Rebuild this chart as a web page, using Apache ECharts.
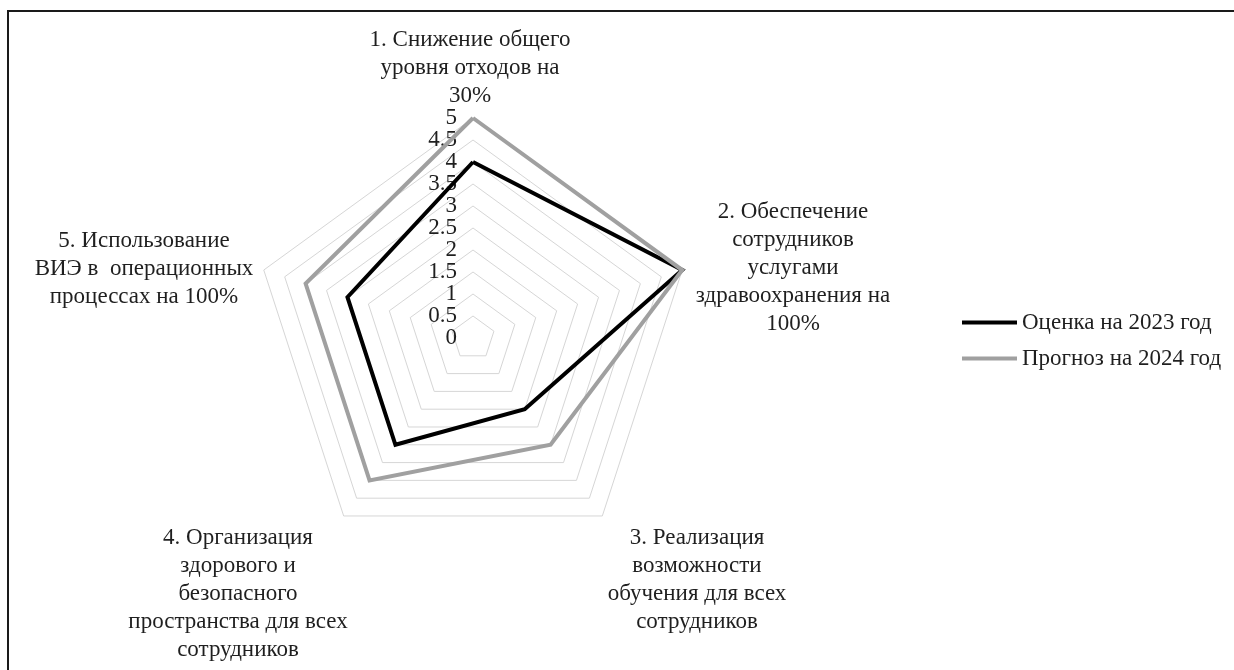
<!DOCTYPE html>
<html>
<head>
<meta charset="utf-8">
<script src="https://cdn.jsdelivr.net/npm/echarts@6/dist/echarts.min.js"></script>
<style>
  html, body { margin: 0; padding: 0; background: #fff; overflow: hidden; }
  #chart { width: 1234px; height: 670px; }
  .frame {
    position: absolute; left: 7px; top: 10px; width: 1300px; height: 700px;
    border-top: 2px solid #1a1a1a; border-left: 2px solid #1a1a1a;
    pointer-events: none;
  }
</style>
</head>
<body>
<div id="chart"></div>
<div class="frame"></div>
<script>
// axes of the radar, in the order of the picture (clockwise from the top)
const indicatorNames = [
  '1. Снижение общего\nуровня отходов на\n30%',
  '2. Обеспечение\nсотрудников\nуслугами\nздравоохранения на\n100%',
  '3. Реализация\nвозможности\nобучения для всех\nсотрудников',
  '4. Организация\nздорового и\nбезопасного\nпространства для всех\nсотрудников',
  '5. Использование\nВИЭ в  операционных\nпроцессах на 100%'
]
const seriesNames = ['Оценка на 2023 год', 'Прогноз на 2024 год']
const values2023 = [4, 5, 2, 3, 3]
const values2024 = [5, 5, 3, 4, 4]
const axisMax = 5
const axisStep = 0.5

const font = '"Liberation Serif", "DejaVu Serif", serif'
const textColor = '#1f1f1f'
const fontSize = 23
const cx = 473
const cy = 338
const R = 220
const unit = R / axisMax

// echarts lays radar axes counter-clockwise, so feed them in reverse after the first
const order = [0, 4, 3, 2, 1]
const pick = (arr) => order.map((i) => arr[i])

// centres of the axis caption blocks
const nameBoxes = [[470, 68], [793, 268], [697, 580], [238, 594], [144, 269]]

// the scale numbers sit 22px apart and overlap, which echarts would thin out,
// so whole and half values go on two separate value axes
const labelStyle = { margin: 16, color: textColor, fontSize: fontSize, fontFamily: font }
const bareAxis = { axisLine: { show: false }, axisTick: { show: false }, splitLine: { show: false } }

const chart = echarts.init(document.getElementById('chart'))

chart.setOption({
  animation: false,
  backgroundColor: '#fff',
  legend: {
    orient: 'vertical',
    left: 957,
    top: 306,
    icon: 'rect',
    itemWidth: 55,
    itemHeight: 4,
    itemGap: 13,
    data: seriesNames,
    textStyle: { color: textColor, fontSize: fontSize, fontFamily: font }
  },
  radar: {
    center: [cx, cy],
    radius: R,
    shape: 'polygon',
    splitNumber: axisMax / axisStep,
    indicator: pick(indicatorNames).map((n) => ({ name: n, min: 0, max: axisMax })),
    axisName: { show: false },
    axisLine: { show: false },
    axisTick: { show: false },
    splitArea: { show: false },
    splitLine: { lineStyle: { color: '#d6d6d6', width: 1 } }
  },
  grid: [
    { left: cx, top: cy - R, width: 1, height: R },
    { left: cx, top: cy - R - unit * axisStep, width: 1, height: R + 2 * unit * axisStep }
  ],
  xAxis: [
    { type: 'value', show: false, gridIndex: 0 },
    { type: 'value', show: false, gridIndex: 1 }
  ],
  yAxis: [
    {
      type: 'value', gridIndex: 0, min: 0, max: axisMax, interval: 1,
      ...bareAxis,
      axisLabel: { ...labelStyle, showMinLabel: true, showMaxLabel: true }
    },
    {
      type: 'value', gridIndex: 1, min: -axisStep, max: axisMax + axisStep, interval: 1,
      ...bareAxis,
      axisLabel: {
        ...labelStyle,
        formatter: (v) => (v < 0 || v > axisMax ? '' : String(v))
      }
    }
  ],
  series: [{
    type: 'radar',
    symbol: 'none',
    data: [
      { name: seriesNames[0], value: pick(values2023), lineStyle: { color: '#000', width: 4, join: 'miter' }, itemStyle: { color: '#000' } },
      { name: seriesNames[1], value: pick(values2024), lineStyle: { color: '#a0a0a0', width: 4, join: 'miter' }, itemStyle: { color: '#a0a0a0' } }
    ]
  }],
  graphic: indicatorNames.map((n, i) => ({
    type: 'text',
    x: nameBoxes[i][0],
    y: nameBoxes[i][1],
    style: {
      text: n,
      fill: textColor,
      font: fontSize + 'px ' + font,
      lineHeight: 28,
      align: 'center',
      verticalAlign: 'middle'
    }
  }))
})
</script>
</body>
</html>
